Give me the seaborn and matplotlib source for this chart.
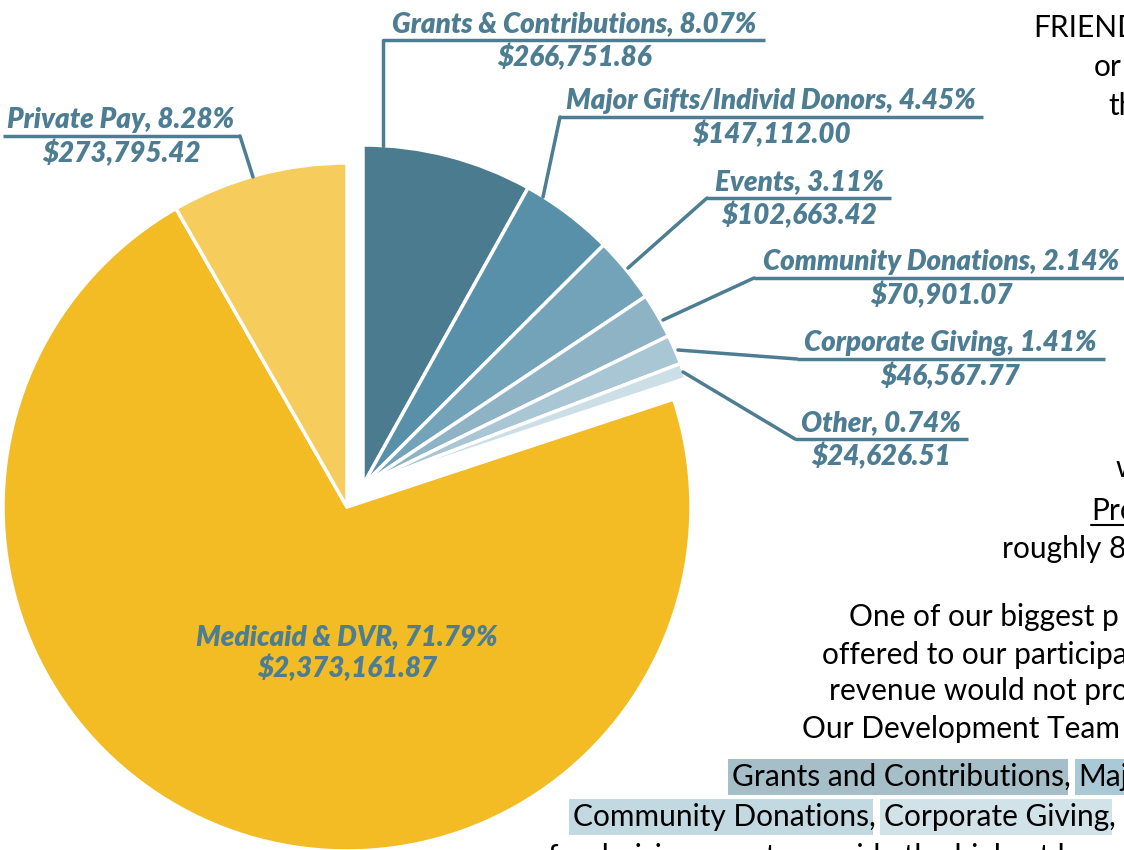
import matplotlib
matplotlib.use("Agg")
import matplotlib.pyplot as plt
import seaborn as sns

# 収入の内訳 (時計回り、12時の位置から)
sources = ["Grants & Contributions", "Major Gifts/Individ Donors", "Events",
           "Community Donations", "Corporate Giving", "Other",
           "Medicaid & DVR", "Private Pay"]
percents = [8.07, 4.45, 3.11, 2.14, 1.41, 0.74, 71.79, 8.28]
amounts = ["$266,751.86", "$147,112.00", "$102,663.42", "$70,901.07",
           "$46,567.77", "$24,626.51", "$2,373,161.87", "$273,795.42"]
colors = ["#4B7B8F", "#5890AA", "#72A3B8", "#8DB3C4",
          "#A8C6D3", "#CCDFE7", "#F3BC25", "#F6CD5C"]
blue_group = sources[:6]

# 右側の本文 (画像の端で切れている)
body_lines = ["FRIEND", "or", "th", "w", "Pro", "roughly 8",
              "One of our biggest p", "offered to our participa",
              "revenue would not pro", "Our Development Team"]

LABEL_COLOR = "#4D7D92"

sns.set_theme(style="white")
plt.rcParams["font.family"] = ["Lato", "DejaVu Sans"]

fig = plt.figure(figsize=(11.24, 8.5), dpi=100)
ax = fig.add_axes([0, 0, 1, 1])

# y軸を下向きにしているので counterclock=True, startangle=-90 で画面上は時計回り
wedges, _ = ax.pie(percents, colors=colors, startangle=-90, counterclock=True,
                   center=(347, 507), radius=344,
                   wedgeprops=dict(edgecolor="white", linewidth=2.5))
for w, name in zip(wedges, sources):
    if name in blue_group:
        w.set_center((363, 485))  # 青いグループをまとめて外へずらす
        w.set_radius(340)

ax.set_xlim(0, 1124)
ax.set_ylim(850, 0)
ax.set_aspect("auto")
ax.axis("off")

# ラベル配置: (中心x, 下線y, 下線の左右, 引き出し線)
label_layout = {
    "Grants & Contributions": (574, 40, (383, 765), [(383, 40), (383, 146)]),
    "Major Gifts/Individ Donors": (771, 117, (560, 983), [(560, 117), (543, 197)]),
    "Events": (799, 198, (707, 891), [(628, 268), (707, 198)]),
    "Community Donations": (941, 278, (754, 1130), [(663, 320), (754, 278)]),
    "Corporate Giving": (950, 359, (797, 1105), [(678, 350), (797, 359)]),
    "Other": (881, 439, (795, 968), [(683, 372), (795, 439)]),
    "Private Pay": (121, 136, (3, 240), [(240, 136), (253, 177)]),
}

lab_kw = dict(color=LABEL_COLOR, fontsize=20, fontweight="heavy", fontstyle="italic",
              ha="center", va="baseline")
for name, pct, amt in zip(sources, percents, amounts):
    if name in label_layout:
        cx, uy, (x0, x1), path = label_layout[name]
        ax.plot([x0, x1], [uy, uy], color=LABEL_COLOR, lw=2.5, solid_capstyle="butt")
        ax.plot([p[0] for p in path], [p[1] for p in path], color=LABEL_COLOR, lw=2.5)
        ax.text(cx, uy - 8, f"{name}, {pct:.2f}%", **lab_kw)
        ax.text(cx, uy + 26, amt, **lab_kw)
    else:
        ax.text(347, 645, f"{name}, {pct:.2f}%", **lab_kw)
        ax.text(347, 677, amt, **lab_kw)

# 右側の本文
body_pos = [(1033, 37), (1094, 76), (1108, 115), (1116, 477), (1091, 520),
            (1002, 558), (849, 626), (822, 664), (829, 700), (802, 738)]
txt_kw = dict(color="black", fontsize=21.5, ha="left", va="baseline")
for line, (x, y) in zip(body_lines, body_pos):
    t = ax.text(x, y, line, **txt_kw)
    if line == "Pro":
        ax.plot([1091, 1124], [525, 525], color="black", lw=1.5)


def hl(prev, s, fc=None):
    box = dict(boxstyle="square,pad=0.12", fc=fc, ec="none") if fc else None
    return ax.annotate(s, xy=(1, 0), xycoords=prev, va="bottom", ha="left",
                       color="black", fontsize=21.5, bbox=box)


t = ax.text(732, 786, "Grants and Contributions", bbox=dict(boxstyle="square,pad=0.12",
            fc="#A5BEC8", ec="none"), **txt_kw)
t = hl(t, ", ")
t = hl(t, "Majo", "#A9C9D6")

t = ax.text(573, 826, "Community Donations", bbox=dict(boxstyle="square,pad=0.12",
            fc="#C3D9E1", ec="none"), **txt_kw)
t = hl(t, ", ")
t = hl(t, "Corporate Giving", "#D2E2E9")
t = hl(t, ",")

ax.text(548, 866, "fundraising events provide the highest l", **txt_kw)

fig.savefig("out.png", dpi=100)
